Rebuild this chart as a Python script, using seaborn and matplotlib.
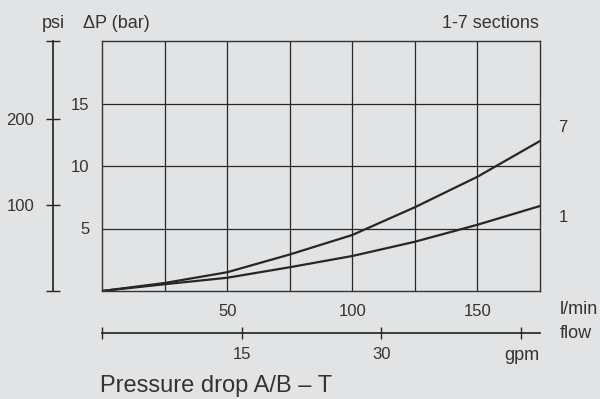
import pandas as pd
import seaborn as sns
import matplotlib.pyplot as plt

# data (flow in l/min, pressure drop in bar)
flow_lpm = [0, 25, 50, 75, 100, 125, 150, 175]
dp_7_sections = [0, 0.64, 1.5, 2.92, 4.48, 6.7, 9.14, 12.0]
dp_1_sections = [0, 0.54, 1.06, 1.9, 2.8, 3.94, 5.3, 6.8]

x_ticks = [25, 50, 75, 100, 125, 150]
x_labels = ['', '50', '', '100', '', '150']
y_ticks = [5, 10, 15]
psi_ticks = [0, 100, 200, 290]
psi_labels = ['', '100', '200', '']
gpm_ticks = [0, 15, 30, 45]
gpm_labels = ['', '15', '30', '']

PSI_PER_BAR = 14.5
LPM_PER_GPM = 3.72

bg = '#e2e3e4'
ink = '#262626'
num_size = 12
word_size = 13

sns.set_theme(style='white', rc={'figure.facecolor': bg, 'axes.facecolor': bg})
plt.rcParams['font.family'] = ['Liberation Sans', 'DejaVu Sans']
plt.rcParams['text.color'] = '#333333'
plt.rcParams['xtick.color'] = ink
plt.rcParams['ytick.color'] = ink
plt.rcParams['xtick.labelcolor'] = '#333333'
plt.rcParams['ytick.labelcolor'] = '#333333'

df = pd.DataFrame({
    'flow': flow_lpm * 2,
    'dp': dp_7_sections + dp_1_sections,
    'sections': ['7'] * len(flow_lpm) + ['1'] * len(flow_lpm),
})

fig = plt.figure(figsize=(6, 3.99), dpi=100)
ax = fig.add_axes([102 / 600, 1 - 291 / 399, 438 / 600, 250 / 399])

sns.lineplot(data=df, x='flow', y='dp', hue='sections',
             palette={'7': ink, '1': ink}, linewidth=1.6,
             legend=False, ax=ax)

ax.set_xlim(0, 175)
ax.set_ylim(0, 20)
ax.set_xticks(x_ticks)
ax.set_xticklabels(x_labels)
ax.set_yticks(y_ticks)
ax.set_xlabel('')
ax.set_ylabel('')
ax.grid(True, color=ink, linewidth=0.9)
ax.tick_params(axis='both', direction='out', length=4, width=0.9,
               labelsize=num_size, pad=5)
for s in ax.spines.values():
    s.set_color('#333333')
    s.set_linewidth(1.0)

# psi scale on the left
sec_y = ax.secondary_yaxis(-0.111, functions=(lambda b: b * PSI_PER_BAR,
                                              lambda p: p / PSI_PER_BAR))
sec_y.set_yticks(psi_ticks)
sec_y.set_yticklabels(psi_labels)
sec_y.tick_params(direction='inout', length=9.5, width=1.0, labelsize=num_size, pad=9)
sec_y.spines['left'].set_color(ink)

# gpm scale underneath
sec_x = ax.secondary_xaxis(-0.167, functions=(lambda l: l / LPM_PER_GPM,
                                              lambda g: g * LPM_PER_GPM))
sec_x.set_xticks(gpm_ticks)
sec_x.set_xticklabels(gpm_labels)
sec_x.tick_params(direction='inout', length=8.5, width=1.0, labelsize=num_size, pad=6)
sec_x.spines['bottom'].set_color(ink)

# annotations
fig.text(53 / 600, 1 - 23 / 399, 'psi', ha='center', va='center', fontsize=word_size)
fig.text(83 / 600, 1 - 23 / 399, '\u0394P (bar)', ha='left', va='center', fontsize=word_size)
fig.text(539 / 600, 1 - 24 / 399, '1-7 sections', ha='right', va='center', fontsize=word_size)
fig.text(563 / 600, 1 - 127 / 399, '7', ha='center', va='center', fontsize=num_size)
fig.text(563 / 600, 1 - 218 / 399, '1', ha='center', va='center', fontsize=num_size)
fig.text(560 / 600, 1 - 310 / 399, 'l/min', ha='left', va='center', fontsize=word_size)
fig.text(560 / 600, 1 - 333 / 399, 'flow', ha='left', va='center', fontsize=word_size)
fig.text(539 / 600, 1 - 355 / 399, 'gpm', ha='right', va='center', fontsize=word_size)
fig.text(100 / 600, 1 - 386 / 399, 'Pressure drop A/B \u2013 T', ha='left', va='center',
         fontsize=17)

fig.savefig('out.png', dpi=100, facecolor=bg)
